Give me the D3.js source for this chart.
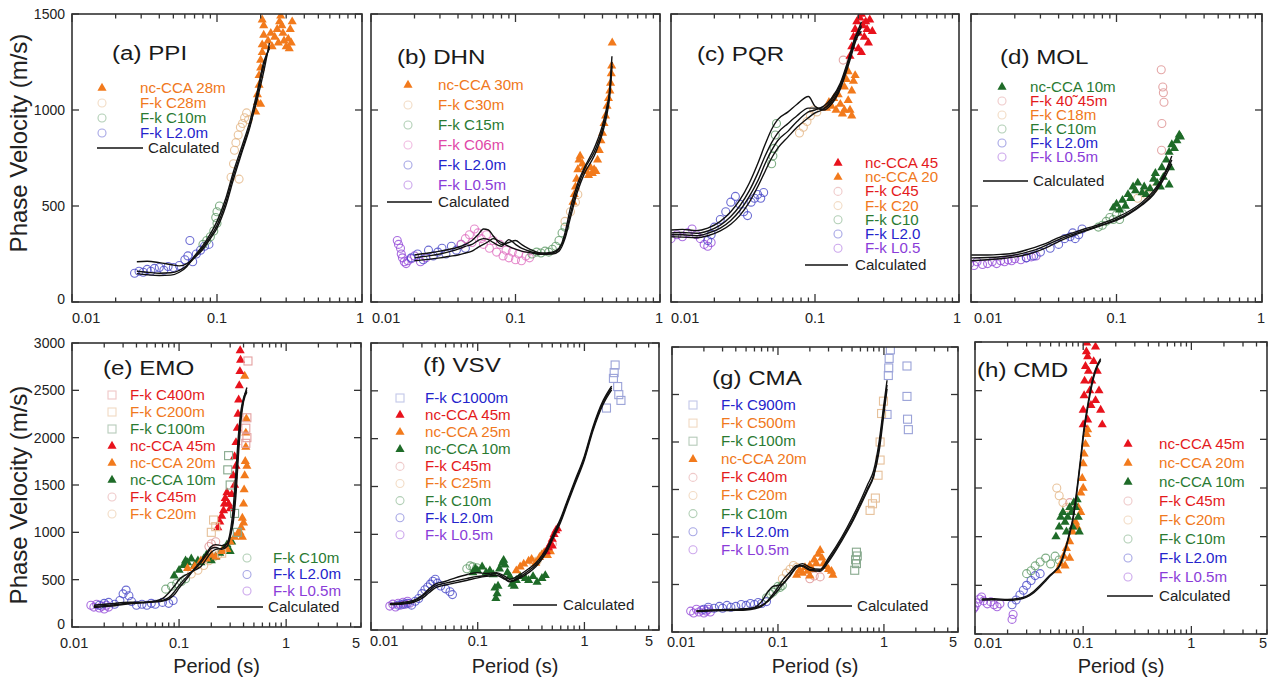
<!DOCTYPE html>
<html>
<head>
<meta charset="utf-8">
<script src="https://cdn.jsdelivr.net/npm/d3@7"></script>
<style>
  body { margin: 0; background: #fff; }
  svg { display: block; font-family: "Liberation Sans", Arial, sans-serif; }
</style>
</head>
<body>
<div id="chart"></div>
<script>
// ---- data: [period (s), phase velocity (m/s)] ----

// (a) PPI
var aNcca28 = [[0.185,990],[0.19,1040],[0.19,1080],[0.195,1130],[0.195,1180],[0.2,1220],[0.2,1260],[0.205,1300],[0.205,1340],[0.21,1390],[0.21,1440],[0.205,1470],[0.2,1030],[0.215,1330],[0.225,1360],[0.235,1400],[0.24,1330],[0.25,1380],[0.26,1420],[0.265,1350],[0.27,1460],[0.275,1490],[0.28,1440],[0.285,1400],[0.29,1360],[0.3,1330],[0.31,1370],[0.315,1320],[0.32,1420],[0.33,1460],[0.325,1350]];
var aFkC28 = [[0.125,650],[0.13,720],[0.132,790],[0.135,830],[0.14,870],[0.142,640],[0.145,910],[0.15,930],[0.155,960],[0.16,985],[0.165,950]];
var aFkC10 = [[0.08,300],[0.085,320],[0.09,340],[0.095,370],[0.1,410],[0.1,470],[0.104,500],[0.098,440]];
var aFkL20 = [[0.027,150],[0.029,160],[0.031,155],[0.033,170],[0.035,160],[0.037,175],[0.04,180],[0.043,165],[0.046,185],[0.05,180],[0.055,190],[0.06,220],[0.063,240],[0.065,320],[0.068,210],[0.072,250],[0.077,270],[0.082,290],[0.088,300]];
var aCalc1 = [[0.028,210],[0.033,212],[0.04,205],[0.048,195],[0.055,188],[0.062,200],[0.07,235],[0.08,285],[0.09,340],[0.1,400],[0.115,520],[0.13,660],[0.15,800],[0.17,930],[0.19,1060],[0.21,1200],[0.23,1350]];
var aCalc2 = [[0.028,160],[0.033,155],[0.04,150],[0.048,152],[0.055,165],[0.062,190],[0.07,230],[0.08,275],[0.09,330],[0.1,385],[0.115,500],[0.13,640],[0.15,790],[0.17,920],[0.19,1080],[0.21,1230],[0.23,1330]];
var aCalc3 = [[0.028,148],[0.033,142],[0.04,138],[0.048,140],[0.055,155],[0.062,185],[0.07,240],[0.08,295],[0.09,355],[0.1,420],[0.115,540],[0.13,680],[0.15,820],[0.17,950],[0.19,1100],[0.21,1250],[0.23,1320]];

// (b) DHN
var bNcca30 = [[0.25,520],[0.255,560],[0.26,600],[0.265,640],[0.27,690],[0.275,740],[0.28,760],[0.29,720],[0.3,700],[0.31,680],[0.32,660],[0.33,700],[0.34,670],[0.35,690],[0.36,680],[0.37,740],[0.38,790],[0.39,840],[0.4,880],[0.41,930],[0.42,970],[0.43,1020],[0.44,1060],[0.45,1100],[0.455,1140],[0.46,1190],[0.463,1230],[0.467,1350]];
var bFkC30 = [[0.22,420],[0.24,470],[0.26,520],[0.27,560]];
var bFkC15 = [[0.13,250],[0.14,260],[0.15,255],[0.16,265],[0.17,260],[0.18,275],[0.19,290],[0.2,320],[0.21,360],[0.22,390]];
var bFkC06 = [[0.042,300],[0.045,330],[0.048,350],[0.05,310],[0.052,380],[0.055,360],[0.058,330],[0.06,300],[0.063,350],[0.066,280],[0.07,320],[0.074,260],[0.078,300],[0.082,240],[0.086,270],[0.09,230],[0.095,260],[0.1,220],[0.105,250],[0.11,215],[0.118,240],[0.125,230]];
var bFkL20 = [[0.019,230],[0.021,250],[0.023,220],[0.025,270],[0.027,240],[0.029,260],[0.031,280],[0.033,250],[0.036,290],[0.039,270],[0.042,300],[0.045,280]];
var bFkL05 = [[0.0152,320],[0.0155,300],[0.016,280],[0.0162,250],[0.0165,230],[0.017,210],[0.0175,200],[0.018,215],[0.019,225],[0.02,240],[0.022,210],[0.024,230]];
var bCalc1 = [[0.02,245],[0.025,255],[0.03,265],[0.035,275],[0.04,285],[0.045,300],[0.05,320],[0.055,350],[0.06,380],[0.065,375],[0.07,345],[0.08,300],[0.09,310],[0.1,320],[0.11,300],[0.13,270],[0.15,255],[0.18,260],[0.2,280],[0.22,340],[0.24,460],[0.27,600],[0.3,690],[0.35,780],[0.4,900],[0.43,1000],[0.45,1120],[0.465,1280]];
var bCalc2 = [[0.02,230],[0.025,240],[0.03,250],[0.035,262],[0.04,275],[0.045,290],[0.05,300],[0.055,320],[0.06,330],[0.065,325],[0.07,310],[0.08,290],[0.09,325],[0.1,300],[0.11,280],[0.13,260],[0.15,250],[0.18,255],[0.2,275],[0.22,360],[0.24,490],[0.27,620],[0.3,700],[0.35,800],[0.4,920],[0.43,1020],[0.45,1100],[0.465,1250]];
var bCalc3 = [[0.02,215],[0.025,222],[0.03,230],[0.035,238],[0.04,245],[0.045,255],[0.05,265],[0.055,285],[0.06,300],[0.065,315],[0.07,330],[0.08,310],[0.09,290],[0.1,275],[0.11,265],[0.13,255],[0.15,248],[0.18,250],[0.2,265],[0.22,330],[0.24,440],[0.27,580],[0.3,670],[0.35,760],[0.4,880],[0.43,980],[0.45,1080],[0.465,1230]];

// (c) PQR
var cNcca45 = [[0.175,1280],[0.18,1330],[0.185,1380],[0.19,1420],[0.195,1460],[0.2,1400],[0.205,1480],[0.21,1500],[0.215,1440],[0.22,1380],[0.225,1460],[0.23,1420],[0.235,1350],[0.24,1470],[0.25,1410],[0.21,1300],[0.2,1320]];
var cNcca20 = [[0.12,1010],[0.125,1040],[0.13,1020],[0.135,1060],[0.14,1000],[0.145,1080],[0.15,1030],[0.155,980],[0.16,1120],[0.165,1160],[0.17,1050],[0.175,1000],[0.18,1100],[0.185,1150],[0.19,1180],[0.17,1200],[0.16,1000],[0.18,970]];
var cFkC45 = [[0.157,1260]];
var cFkC20 = [[0.078,880],[0.083,910],[0.088,940],[0.093,970],[0.098,1000],[0.103,990]];
var cFkC10 = [[0.05,720],[0.051,760],[0.052,800],[0.053,870],[0.054,930]];
var cFkL20 = [[0.018,320],[0.019,350],[0.02,390],[0.022,430],[0.024,470],[0.026,520],[0.028,550],[0.03,510],[0.032,470],[0.034,450],[0.036,520],[0.038,540],[0.04,560],[0.042,540],[0.044,570]];
var cFkL05 = [[0.01,330],[0.011,350],[0.012,340],[0.013,360],[0.014,380],[0.015,350],[0.016,330],[0.017,300],[0.018,290],[0.019,310]];
var cCalc1 = [[0.01,375],[0.012,378],[0.015,372],[0.018,385],[0.022,420],[0.026,470],[0.03,530],[0.035,620],[0.04,720],[0.045,820],[0.05,900],[0.055,950],[0.065,990],[0.075,1030],[0.09,1070],[0.1,1020],[0.115,1000],[0.13,1030],[0.15,1110],[0.17,1230],[0.19,1350],[0.21,1440]];
var cCalc2 = [[0.01,360],[0.012,362],[0.015,358],[0.018,370],[0.022,400],[0.026,445],[0.03,500],[0.035,580],[0.04,670],[0.045,760],[0.05,830],[0.055,880],[0.065,930],[0.075,970],[0.09,1010],[0.1,1010],[0.115,1010],[0.13,1040],[0.15,1120],[0.17,1240],[0.19,1370],[0.21,1460]];
var cCalc3 = [[0.01,350],[0.012,350],[0.015,345],[0.018,358],[0.022,385],[0.026,425],[0.03,475],[0.035,550],[0.04,630],[0.045,720],[0.05,790],[0.055,840],[0.065,890],[0.075,940],[0.09,990],[0.1,1000],[0.115,1020],[0.13,1060],[0.15,1140],[0.17,1260],[0.19,1380],[0.21,1430]];
var cCalc4 = [[0.01,340],[0.012,338],[0.015,335],[0.018,345],[0.022,370],[0.026,405],[0.03,450],[0.035,520],[0.04,600],[0.045,680],[0.05,750],[0.055,800],[0.065,860],[0.075,910],[0.09,960],[0.1,985],[0.115,1005],[0.13,1050],[0.15,1130],[0.17,1250],[0.19,1360],[0.21,1410]];

// (d) MOL
var dNcca10 = [[0.095,490],[0.1,510],[0.105,480],[0.11,530],[0.115,500],[0.12,560],[0.125,540],[0.13,600],[0.135,580],[0.14,620],[0.15,570],[0.155,600],[0.16,560],[0.17,590],[0.18,640],[0.185,670],[0.19,620],[0.2,600],[0.205,700],[0.21,650],[0.22,740],[0.23,780],[0.235,700],[0.24,820],[0.25,800],[0.26,840],[0.27,870],[0.275,860],[0.23,610]];
var dFk4045 = [[0.203,1210],[0.208,1120],[0.21,1090],[0.212,1040],[0.205,930],[0.204,790]];
var dFkC18 = [[0.14,540],[0.16,560],[0.18,590]];
var dFkC10 = [[0.075,390],[0.08,400],[0.085,420],[0.09,440],[0.095,430],[0.1,455],[0.105,430],[0.11,460]];
var dFkL20 = [[0.024,230],[0.027,240],[0.03,260],[0.035,280],[0.04,300],[0.044,330],[0.048,340],[0.05,360],[0.052,330],[0.055,350],[0.058,380]];
var dFkL05 = [[0.0098,200],[0.0105,190],[0.011,210],[0.012,195],[0.013,200],[0.014,210],[0.015,200],[0.016,215],[0.017,210],[0.018,220],[0.019,215],[0.02,225],[0.022,220],[0.024,230],[0.026,235],[0.028,240]];
var dCalc1 = [[0.01,245],[0.013,245],[0.016,248],[0.02,255],[0.025,275],[0.03,295],[0.035,315],[0.04,335],[0.05,360],[0.06,380],[0.07,395],[0.08,410],[0.1,440],[0.12,470],[0.15,520],[0.18,580],[0.2,630],[0.22,690],[0.24,760]];
var dCalc2 = [[0.01,230],[0.013,232],[0.016,236],[0.02,245],[0.025,262],[0.03,282],[0.035,305],[0.04,325],[0.05,352],[0.06,372],[0.07,388],[0.08,402],[0.1,430],[0.12,460],[0.15,510],[0.18,570],[0.2,620],[0.22,680],[0.24,740]];
var dCalc3 = [[0.01,215],[0.013,220],[0.016,225],[0.02,235],[0.025,250],[0.03,270],[0.035,292],[0.04,315],[0.05,345],[0.06,368],[0.07,385],[0.08,400],[0.1,425],[0.12,455],[0.15,505],[0.18,560],[0.2,610],[0.22,665],[0.24,720]];

// (e) EMO
var eFkC400 = [[0.44,2810],[0.43,2210],[0.42,2100],[0.43,2000],[0.42,1940]];
var eFkC200 = [[0.21,1130],[0.22,1060],[0.2,1000],[0.25,780]];
var eFkC100 = [[0.29,1810],[0.285,1660],[0.3,1500],[0.33,1200],[0.35,1000]];
var eNcca45 = [[0.23,1050],[0.24,1110],[0.25,1170],[0.26,1230],[0.265,1300],[0.27,1360],[0.28,1420],[0.29,1300],[0.3,1250],[0.31,1400],[0.32,1600],[0.33,1800],[0.34,1950],[0.35,2100],[0.355,2250],[0.36,2400],[0.365,2550],[0.37,2700],[0.375,2820],[0.372,2920],[0.34,1700],[0.33,1500]];
var eNcca20 = [[0.12,620],[0.14,640],[0.16,700],[0.18,720],[0.2,760],[0.22,740],[0.25,800],[0.28,820],[0.3,900],[0.33,950],[0.35,980],[0.37,1000],[0.38,1050],[0.39,1150],[0.4,1300],[0.405,1450],[0.41,1600],[0.415,1750],[0.42,1900],[0.42,2050],[0.425,2200],[0.41,2650],[0.4,1100],[0.43,1700],[0.39,950]];
var eNcca10 = [[0.09,540],[0.1,600],[0.11,650],[0.115,700],[0.12,680],[0.13,720],[0.14,650],[0.15,700],[0.16,680],[0.17,720],[0.18,760],[0.2,700],[0.22,740],[0.24,780],[0.26,820],[0.28,870],[0.3,800],[0.31,900]];
var eFkC45 = [[0.19,850],[0.2,880],[0.22,900]];
var eFkC20 = [[0.13,560],[0.15,600],[0.17,650],[0.19,700],[0.21,740],[0.23,760]];
var eFkC10 = [[0.075,400],[0.085,430],[0.095,460],[0.105,480],[0.115,510]];
var eFkL20 = [[0.018,230],[0.02,250],[0.022,260],[0.025,240],[0.028,280],[0.03,350],[0.032,390],[0.034,330],[0.036,270],[0.04,230],[0.045,240],[0.05,230],[0.055,250],[0.06,240],[0.07,260],[0.08,250],[0.088,280]];
var eFkL05 = [[0.015,230],[0.016,210],[0.017,240],[0.018,200],[0.019,220],[0.02,190],[0.021,230],[0.022,210]];
var eCalc1 = [[0.016,215],[0.02,225],[0.025,235],[0.03,245],[0.04,255],[0.05,260],[0.06,268],[0.07,280],[0.08,310],[0.09,370],[0.1,440],[0.12,540],[0.14,610],[0.16,680],[0.18,760],[0.2,830],[0.22,840],[0.25,820],[0.28,850],[0.3,950],[0.32,1150],[0.34,1500],[0.36,1950],[0.38,2250],[0.4,2400],[0.43,2530]];
var eCalc2 = [[0.016,230],[0.02,240],[0.025,250],[0.03,260],[0.04,262],[0.05,265],[0.06,275],[0.07,300],[0.08,360],[0.09,430],[0.1,500],[0.12,560],[0.14,600],[0.16,640],[0.18,720],[0.2,790],[0.22,820],[0.25,830],[0.28,880],[0.3,1000],[0.32,1250],[0.34,1650],[0.36,2050],[0.38,2300],[0.4,2420],[0.43,2500]];
var eCalc3 = [[0.016,205],[0.02,215],[0.025,225],[0.03,238],[0.04,250],[0.05,258],[0.06,265],[0.07,275],[0.08,295],[0.09,340],[0.1,410],[0.12,520],[0.14,620],[0.16,700],[0.18,780],[0.2,850],[0.22,870],[0.25,860],[0.28,880],[0.3,960],[0.32,1100],[0.34,1400],[0.36,1850],[0.38,2200],[0.4,2380],[0.43,2480]];

// (f) VSV
var fFkC1000 = [[1.94,2770],[1.9,2690],[1.87,2630],[2.05,2545],[2.1,2460],[2.2,2400],[1.61,2320]];
var fNcca45 = [[0.44,820],[0.46,860],[0.48,900],[0.5,950],[0.52,1000],[0.54,1040],[0.56,1060],[0.5,880]];
var fNcca25 = [[0.23,620],[0.25,660],[0.27,690],[0.3,720],[0.32,740],[0.35,700],[0.38,760],[0.4,790],[0.42,810],[0.45,780],[0.48,820]];
var fNcca10 = [[0.09,600],[0.095,640],[0.1,620],[0.11,660],[0.12,600],[0.13,620],[0.14,580],[0.145,440],[0.148,330],[0.152,380],[0.155,460],[0.16,640],[0.17,700],[0.175,730],[0.18,680],[0.19,600],[0.2,560],[0.21,480],[0.22,460],[0.23,520],[0.25,560],[0.28,540],[0.3,520],[0.33,560],[0.36,500],[0.4,540],[0.43,570]];
var fFkC45 = [[0.5,900]];
var fFkC25 = [[0.33,710],[0.36,720]];
var fFkC10 = [[0.079,640],[0.085,670],[0.09,660],[0.098,650]];
var fFkL20 = [[0.018,260],[0.02,270],[0.022,280],[0.024,260],[0.026,300],[0.028,330],[0.03,380],[0.032,420],[0.034,450],[0.036,480],[0.038,510],[0.04,530],[0.042,490],[0.045,460],[0.05,430],[0.055,400],[0.058,370]];
var fFkL05 = [[0.015,250],[0.016,270],[0.017,240],[0.018,280],[0.019,260],[0.02,290],[0.021,270],[0.022,300],[0.023,280]];
var fCalc1 = [[0.015,270],[0.018,275],[0.02,280],[0.025,300],[0.03,350],[0.035,410],[0.04,460],[0.05,490],[0.06,510],[0.08,540],[0.1,560],[0.12,570],[0.15,590],[0.18,540],[0.2,510],[0.25,560],[0.3,620],[0.35,680],[0.4,760],[0.45,850],[0.5,960],[0.6,1150],[0.7,1350],[0.8,1520],[1,1800],[1.2,2100],[1.5,2380],[1.8,2530]];
var fCalc2 = [[0.015,265],[0.018,268],[0.02,272],[0.025,290],[0.03,330],[0.035,390],[0.04,440],[0.05,470],[0.06,490],[0.08,520],[0.1,545],[0.12,560],[0.15,570],[0.18,530],[0.2,505],[0.25,545],[0.3,600],[0.35,660],[0.4,740],[0.45,830],[0.5,940],[0.6,1130],[0.7,1330],[0.8,1500],[1,1780],[1.2,2080],[1.5,2360],[1.8,2510]];
var fCalc3 = [[0.015,275],[0.018,282],[0.02,290],[0.025,310],[0.03,360],[0.035,430],[0.04,480],[0.05,510],[0.06,540],[0.08,580],[0.1,600],[0.12,590],[0.15,600],[0.18,560],[0.2,530],[0.25,580],[0.3,640],[0.35,700],[0.4,780],[0.45,870],[0.5,980],[0.6,1170],[0.7,1370],[0.8,1540],[1,1820],[1.2,2120],[1.5,2400],[1.8,2550]];

// (g) CMA
var gFkC900 = [[1.15,2970],[1.12,2880],[1.11,2780],[1.1,2700],[1.07,2290],[1.65,2800],[1.65,2480],[1.67,2240],[1.7,2130]];
var gFkC500 = [[0.99,2430],[0.95,2300],[0.92,2000],[0.92,1810],[0.88,1650],[0.83,1410],[0.78,1350],[0.74,1280]];
var gFkC100 = [[0.55,840],[0.56,800],[0.54,760],[0.55,720],[0.53,650]];
var gNcca20 = [[0.15,600],[0.16,650],[0.17,620],[0.18,680],[0.19,640],[0.2,700],[0.21,660],[0.22,760],[0.23,720],[0.24,820],[0.25,860],[0.26,780],[0.27,720],[0.28,690],[0.3,660],[0.32,640],[0.33,600],[0.2,590]];
var gFkC40 = [[0.2,560],[0.22,590],[0.25,580]];
var gFkC20 = [[0.11,560],[0.12,620],[0.13,660],[0.14,700],[0.15,680]];
var gFkC10 = [[0.078,360],[0.085,400],[0.09,420],[0.095,450],[0.1,480],[0.105,470],[0.11,490]];
var gFkL20 = [[0.02,240],[0.022,260],[0.025,250],[0.028,270],[0.03,250],[0.033,280],[0.036,260],[0.04,270],[0.045,290],[0.05,280],[0.055,300],[0.06,290],[0.065,310],[0.07,300],[0.078,320]];
var gFkL05 = [[0.015,220],[0.016,200],[0.017,240],[0.018,210],[0.019,230],[0.02,200],[0.021,220],[0.022,240],[0.023,210]];
var gCalc1 = [[0.017,220],[0.02,225],[0.025,230],[0.03,232],[0.04,235],[0.05,240],[0.06,260],[0.07,320],[0.08,420],[0.09,480],[0.1,490],[0.11,500],[0.13,600],[0.15,690],[0.17,720],[0.2,680],[0.25,660],[0.3,780],[0.4,1000],[0.5,1200],[0.6,1380],[0.7,1550],[0.8,1700],[0.9,2000],[1,2400],[1.07,2650]];
var gCalc2 = [[0.017,215],[0.02,218],[0.025,222],[0.03,225],[0.04,228],[0.05,232],[0.06,245],[0.07,270],[0.08,320],[0.09,380],[0.1,440],[0.11,500],[0.13,590],[0.15,680],[0.17,700],[0.2,660],[0.25,650],[0.3,760],[0.4,980],[0.5,1170],[0.6,1350],[0.7,1510],[0.8,1650],[0.9,1950],[1,2350],[1.07,2600]];
var gCalc3 = [[0.017,225],[0.02,228],[0.025,232],[0.03,235],[0.04,238],[0.05,245],[0.06,255],[0.07,280],[0.08,330],[0.09,400],[0.1,470],[0.11,540],[0.13,630],[0.15,700],[0.17,690],[0.2,650],[0.25,640],[0.3,740],[0.4,960],[0.5,1150],[0.6,1330],[0.7,1490],[0.8,1640],[0.9,1900],[1,2300],[1.07,2560]];

// (h) CMD
var hNcca45 = [[0.1,2150],[0.1,2300],[0.102,2450],[0.103,2600],[0.105,2750],[0.107,2900],[0.108,2990],[0.11,2850],[0.112,2700],[0.115,2500],[0.118,2350],[0.12,2600],[0.125,2800],[0.13,2950],[0.135,2700],[0.14,2500],[0.145,2300],[0.15,2150],[0.13,2400],[0.11,2200]];
var hNcca20 = [[0.058,650],[0.062,720],[0.066,800],[0.07,880],[0.075,950],[0.08,1050],[0.085,1150],[0.09,1300],[0.095,1450],[0.098,1600],[0.1,1750],[0.102,1850],[0.105,1950],[0.108,2050],[0.11,2100],[0.1,1500],[0.095,1250],[0.088,1100],[0.075,780],[0.068,700]];
var hNcca10 = [[0.056,1000],[0.06,1100],[0.062,1200],[0.065,1250],[0.068,1150],[0.07,1050],[0.072,1200],[0.075,1300],[0.078,1250],[0.08,1100],[0.082,1350],[0.085,1300],[0.088,1380],[0.09,1200],[0.092,1050]];
var hFkC45 = [[0.075,1350]];
var hFkC20 = [[0.057,1500],[0.06,1420],[0.065,1350],[0.07,1300]];
var hFkC10 = [[0.03,620],[0.033,650],[0.036,700],[0.04,740],[0.045,780],[0.05,720],[0.055,800],[0.06,760]];
var hFkL20 = [[0.022,300],[0.024,350],[0.026,400],[0.028,450],[0.03,500],[0.033,550],[0.036,600],[0.04,620]];
var hFkL05 = [[0.0097,260],[0.01,280],[0.0105,320],[0.011,360],[0.0115,380],[0.012,340],[0.013,310],[0.014,330],[0.015,300],[0.016,280],[0.017,310],[0.0225,200],[0.022,150]];
var hCalc1 = [[0.0115,360],[0.015,362],[0.02,355],[0.025,365],[0.03,390],[0.035,440],[0.04,500],[0.045,560],[0.05,610],[0.055,650],[0.06,700],[0.065,800],[0.07,920],[0.075,1050],[0.08,1180],[0.085,1380],[0.09,1600],[0.095,1820],[0.1,2050],[0.11,2350],[0.12,2580],[0.13,2720],[0.145,2830]];
var hCalc2 = [[0.0115,350],[0.015,352],[0.02,346],[0.025,355],[0.03,380],[0.035,425],[0.04,485],[0.045,545],[0.05,600],[0.055,645],[0.06,690],[0.065,780],[0.07,900],[0.075,1030],[0.08,1160],[0.085,1350],[0.09,1570],[0.095,1790],[0.1,2010],[0.11,2320],[0.12,2550],[0.13,2700],[0.145,2810]];

// tick labels
var xLabelsTop = [0.01, 0.1, 1];
var xLabelsBottom = [0.01, 0.1, 1, 5];
var yLabelsTop = [0, 500, 1000, 1500];
var yLabelsBottom = [0, 500, 1000, 1500, 2000, 2500, 3000];

// legend labels
var legA = ["nc-CCA 28m", "F-k C28m", "F-k C10m", "F-k L2.0m"];
var legB = ["nc-CCA 30m", "F-k C30m", "F-k C15m", "F-k C06m", "F-k L2.0m", "F-k L0.5m"];
var legC = ["nc-CCA 45", "nc-CCA 20", "F-k C45", "F-k C20", "F-k C10", "F-k L2.0", "F-k L0.5"];
var legD = ["nc-CCA 10m", "F-k 40\u02dc45m", "F-k C18m", "F-k C10m", "F-k L2.0m", "F-k L0.5m"];
var legE1 = ["F-k C400m", "F-k C200m", "F-k C100m", "nc-CCA 45m", "nc-CCA 20m", "nc-CCA 10m", "F-k C45m", "F-k C20m"];
var legE2 = ["F-k C10m", "F-k L2.0m", "F-k L0.5m"];
var legF = ["F-k C1000m", "nc-CCA 45m", "nc-CCA 25m", "nc-CCA 10m", "F-k C45m", "F-k C25m", "F-k C10m", "F-k L2.0m", "F-k L0.5m"];
var legG = ["F-k C900m", "F-k C500m", "F-k C100m", "nc-CCA 20m", "F-k C40m", "F-k C20m", "F-k C10m", "F-k L2.0m", "F-k L0.5m"];
var legH = ["nc-CCA 45m", "nc-CCA 20m", "nc-CCA 10m", "F-k C45m", "F-k C20m", "F-k C10m", "F-k L2.0m", "F-k L0.5m"];

// ---- styles ----
var STY = {
  triOr: { shape: "tri", c: "#f27a1c", t: "#f07820" },
  triRd: { shape: "tri", c: "#e8121c", t: "#e41a1c" },
  triGr: { shape: "tri", c: "#1e6b28", t: "#2a7a32" },
  cirTan: { shape: "cir", c: "#e4b585", t: "#f07820" },
  cirRd: { shape: "cir", c: "#dd9090", t: "#e41a1c" },
  cirGr: { shape: "cir", c: "#5f9a66", t: "#2a7a32" },
  cirBl: { shape: "cir", c: "#4848c8", t: "#2424cc" },
  cirPu: { shape: "cir", c: "#9448d8", t: "#8a3cd8" },
  cirPk: { shape: "cir", c: "#e070c0", t: "#e048a8" },
  sqRd: { shape: "sq", c: "#e4a0a0", t: "#e41a1c" },
  sqOr: { shape: "sq", c: "#e6c09a", t: "#f07820" },
  sqGr: { shape: "sq", c: "#86a88c", t: "#2a7a32" },
  sqBl: { shape: "sq", c: "#9aa2d8", t: "#2424cc" }
};

// ---- panel layout ----
var panels = [
  { title: "(a) PPI", box: [72, 14, 362, 302], xmax: 1, ymax: 1500, tpos: [112, 53], yTicks: yLabelsTop,
    xLabels: xLabelsTop, xLabelY: 318, yAxis: true, yTitleY: 143, firstX: 0, lastX: 2,
    series: [[aFkL20, "cirBl"], [aFkC10, "cirGr"], [aFkC28, "cirTan"], [aNcca28, "triOr"]],
    calc: [aCalc1, aCalc2, aCalc3],
    legends: [{ mx: 102, tx: 140, y0: 88, dy: 15, labels: legA, sty: ["triOr", "cirTan", "cirGr", "cirBl"] }],
    calcLeg: [97, 143, 148, 148] },
  { title: "(b) DHN", box: [371, 14, 660, 302], xmax: 1, ymax: 1500, tpos: [397, 57], yTicks: yLabelsTop,
    xLabels: xLabelsTop, xLabelY: 318, firstX: 1, lastX: 3,
    series: [[bFkL05, "cirPu"], [bFkL20, "cirBl"], [bFkC06, "cirPk"], [bFkC15, "cirGr"], [bFkC30, "cirTan"], [bNcca30, "triOr"]],
    calc: [bCalc1, bCalc2, bCalc3],
    legends: [{ mx: 408, tx: 438, y0: 85, dy: 20, labels: legB, sty: ["triOr", "cirTan", "cirGr", "cirPk", "cirBl", "cirPu"] }],
    calcLeg: [387, 432, 202, 438] },
  { title: "(c) PQR", box: [671, 14, 959, 302], xmax: 1, ymax: 1500, tpos: [697, 54], yTicks: yLabelsTop,
    xLabels: xLabelsTop, xLabelY: 318, firstX: 0, lastX: 2,
    series: [[cFkL05, "cirPu"], [cFkL20, "cirBl"], [cFkC10, "cirGr"], [cFkC20, "cirTan"], [cFkC45, "cirRd"], [cNcca20, "triOr"], [cNcca45, "triRd"]],
    calc: [cCalc1, cCalc2, cCalc3, cCalc4],
    legends: [{ mx: 838, tx: 865, y0: 163, dy: 14.2, labels: legC, sty: ["triRd", "triOr", "cirRd", "cirTan", "cirGr", "cirBl", "cirPu"] }],
    calcLeg: [805, 848, 265, 855] },
  { title: "(d) MOL", box: [971, 14, 1262, 302], xmax: 1, ymax: 1500, tpos: [1000, 57], yTicks: yLabelsTop,
    xLabels: xLabelsTop, xLabelY: 318, firstX: 3, lastX: 3,
    series: [[dFkL05, "cirPu"], [dFkL20, "cirBl"], [dFkC10, "cirGr"], [dFkC18, "cirTan"], [dFk4045, "cirRd"], [dNcca10, "triGr"]],
    calc: [dCalc1, dCalc2, dCalc3],
    legends: [{ mx: 1002, tx: 1030, y0: 87, dy: 14, labels: legD, sty: ["triGr", "cirRd", "cirTan", "cirGr", "cirBl", "cirPu"] }],
    calcLeg: [983, 1028, 181, 1033] },
  { title: "(e) EMO", box: [72, 343, 361, 627], xmax: 5, ymax: 3000, tpos: [103, 368], yTicks: yLabelsBottom,
    xLabels: xLabelsBottom, xLabelY: 643, yAxis: true, yTitleY: 495, xTitle: true, firstX: -12, lastX: -1,
    series: [[eFkL05, "cirPu"], [eFkL20, "cirBl"], [eFkC10, "cirGr"], [eFkC20, "cirTan"], [eFkC45, "cirRd"],
      [eNcca10, "triGr"], [eNcca20, "triOr"], [eNcca45, "triRd"], [eFkC100, "sqGr"], [eFkC200, "sqOr"], [eFkC400, "sqRd"]],
    calc: [eCalc1, eCalc2, eCalc3],
    legends: [{ mx: 112, tx: 130, y0: 395, dy: 17, labels: legE1, sty: ["sqRd", "sqOr", "sqGr", "triRd", "triOr", "triGr", "cirRd", "cirTan"] },
      { mx: 247, tx: 273, y0: 558, dy: 16.5, labels: legE2, sty: ["cirGr", "cirBl", "cirPu"] }],
    calcLeg: [217, 263, 607, 268] },
  { title: "(f) VSV", box: [371, 343, 659, 630], xmax: 5, ymax: 3000, tpos: [423, 365], yTicks: yLabelsBottom,
    xLabels: xLabelsBottom, xLabelY: 641, xTitle: true, firstX: -1, lastX: -6,
    series: [[fFkL05, "cirPu"], [fFkL20, "cirBl"], [fFkC10, "cirGr"], [fFkC25, "cirTan"], [fFkC45, "cirRd"],
      [fNcca10, "triGr"], [fNcca25, "triOr"], [fNcca45, "triRd"], [fFkC1000, "sqBl"]],
    calc: [fCalc1, fCalc2, fCalc3],
    legends: [{ mx: 400, tx: 425, y0: 398, dy: 17.1, labels: legF, sty: ["sqBl", "triRd", "triOr", "triGr", "cirRd", "cirTan", "cirGr", "cirBl", "cirPu"] }],
    calcLeg: [513, 557, 605, 563] },
  { title: "(g) CMA", box: [672, 347, 958, 632], xmax: 5, ymax: 3000, tpos: [712, 378], yTicks: yLabelsBottom,
    xLabels: xLabelsBottom, xLabelY: 642, xTitle: true, firstX: -5, lastX: -1,
    series: [[gFkL05, "cirPu"], [gFkL20, "cirBl"], [gFkC10, "cirGr"], [gFkC20, "cirTan"], [gFkC40, "cirRd"],
      [gNcca20, "triOr"], [gFkC100, "sqGr"], [gFkC500, "sqOr"], [gFkC900, "sqBl"]],
    calc: [gCalc1, gCalc2, gCalc3],
    legends: [{ mx: 693, tx: 721, y0: 405, dy: 18.1, labels: legG, sty: ["sqBl", "sqOr", "sqGr", "triOr", "cirRd", "cirTan", "cirGr", "cirBl", "cirPu"] }],
    calcLeg: [807, 852, 606, 857] },
  { title: "(h) CMD", box: [975, 342, 1267, 634], xmax: 5, ymax: 3000, tpos: [977, 370], yTicks: yLabelsBottom,
    xLabels: xLabelsBottom, xLabelY: 643, xTitle: true, firstX: -1, lastX: 0,
    series: [[hFkL05, "cirPu"], [hFkL20, "cirBl"], [hFkC10, "cirGr"], [hFkC20, "cirTan"], [hFkC45, "cirRd"],
      [hNcca20, "triOr"], [hNcca10, "triGr"], [hNcca45, "triRd"]],
    calc: [hCalc1, hCalc2],
    legends: [{ mx: 1128, tx: 1159, y0: 444, dy: 19, labels: legH, sty: ["triRd", "triOr", "triGr", "cirRd", "cirTan", "cirGr", "cirBl", "cirPu"] }],
    calcLeg: [1107, 1153, 596, 1159] }
];

var svg = d3.select("#chart").append("svg")
  .attr("width", 1269)
  .attr("height", 684);

var triPath = d3.symbol().type(d3.symbolTriangle).size(36)();

function label(sel, x, y, str, o) {
  return sel.append("text")
    .attr("transform", "translate(" + x + "," + y + ") scale(" + (o.sx || 1) + ",1)" + (o.rot ? " rotate(" + o.rot + ")" : ""))
    .attr("font-size", o.size)
    .attr("fill", o.color || "#222")
    .attr("text-anchor", o.anchor || "start")
    .attr("dy", "0.35em")
    .text(str);
}

function drawMarks(g, data, s, x, y) {
  if (s.shape === "tri") {
    g.selectAll(null).data(data).enter().append("path")
      .attr("d", triPath)
      .attr("transform", function (d) { return "translate(" + x(d[0]) + "," + y(d[1]) + ")"; })
      .attr("fill", s.c);
  } else if (s.shape === "sq") {
    g.selectAll(null).data(data).enter().append("rect")
      .attr("x", function (d) { return x(d[0]) - 4; })
      .attr("y", function (d) { return y(d[1]) - 4; })
      .attr("width", 8).attr("height", 8)
      .attr("fill", "none").attr("stroke", s.c).attr("stroke-width", 1.1);
  } else {
    g.selectAll(null).data(data).enter().append("circle")
      .attr("cx", function (d) { return x(d[0]); })
      .attr("cy", function (d) { return y(d[1]); })
      .attr("r", 4)
      .attr("fill", "none").attr("stroke", s.c).attr("stroke-width", 1.1)
      .attr("stroke-opacity", 0.8);
  }
}

function drawPanel(p, i) {
  var L = p.box[0], T = p.box[1], R = p.box[2], B = p.box[3];
  var x = d3.scaleLog().domain([0.01, p.xmax]).range([L, R]);
  var y = d3.scaleLinear().domain([0, p.ymax]).range([B, T]);
  var g = svg.append("g");

  svg.append("clipPath").attr("id", "clip" + i)
    .append("rect").attr("x", L).attr("y", T).attr("width", R - L).attr("height", B - T);
  var plot = g.append("g").attr("clip-path", "url(#clip" + i + ")");

  // observed dispersion points
  p.series.forEach(function (s) { drawMarks(plot, s[0], STY[s[1]], x, y); });

  // calculated curves
  var line = d3.line()
    .x(function (d) { return x(d[0]); })
    .y(function (d) { return y(d[1]); })
    .curve(d3.curveMonotoneX);
  plot.selectAll("path.calc").data(p.calc).enter().append("path")
    .attr("class", "calc")
    .attr("d", line)
    .attr("fill", "none").attr("stroke", "#111").attr("stroke-width", 1.4);

  // frame
  g.append("rect").attr("x", L).attr("y", T).attr("width", R - L).attr("height", B - T)
    .attr("fill", "none").attr("stroke", "#333").attr("stroke-width", 1.6);

  // log ticks on top and bottom, pointing inward
  x.ticks().forEach(function (t) {
    var lg = Math.log10(t), major = Math.abs(lg - Math.round(lg)) < 1e-6;
    var len = major ? 8 : 4.5, xx = x(t);
    g.append("line").attr("x1", xx).attr("x2", xx).attr("y1", B).attr("y2", B - len)
      .attr("stroke", "#333").attr("stroke-width", 1.3);
    g.append("line").attr("x1", xx).attr("x2", xx).attr("y1", T).attr("y2", T + len)
      .attr("stroke", "#333").attr("stroke-width", 1.3);
  });
  p.yTicks.forEach(function (t) {
    var yy = y(t);
    g.append("line").attr("x1", L).attr("x2", L + 7).attr("y1", yy).attr("y2", yy)
      .attr("stroke", "#333").attr("stroke-width", 1.3);
    g.append("line").attr("x1", R).attr("x2", R - 7).attr("y1", yy).attr("y2", yy)
      .attr("stroke", "#333").attr("stroke-width", 1.3);
  });

  // tick labels: end labels sit inside the panel span, others centred on the tick
  var n = p.xLabels.length;
  p.xLabels.forEach(function (t, k) {
    var xx = x(t), anchor = "middle";
    if (k === 0) { xx = L + p.firstX; anchor = "start"; }
    if (k === n - 1) { xx = R + p.lastX; anchor = "end"; }
    label(g, xx, p.xLabelY, String(t), { size: 14.5, anchor: anchor, color: "#222" });
  });
  if (p.yAxis) {
    p.yTicks.forEach(function (t) {
      // the zero label is nudged up so it clears the first period label
      label(g, L - 7, y(t) - (t === 0 ? 3 : 0), String(t), { size: 14, anchor: "end", color: "#222" });
    });
    label(g, 19, p.yTitleY, "Phase Velocity (m/s)", { size: 24, anchor: "middle", rot: -90, color: "#222" });
  }
  if (p.xTitle) {
    label(g, (L + R) / 2, 666, "Period (s)", { size: 20, anchor: "middle", color: "#222" });
  }

  // title
  label(g, p.tpos[0], p.tpos[1], p.title, { size: 21, sx: 1.15, color: "#1a1a1a" });

  // legends
  p.legends.forEach(function (lg) {
    lg.labels.forEach(function (txt, k) {
      var s = STY[lg.sty[k]], yy = lg.y0 + k * lg.dy;
      var mg = g.append("g").attr("opacity", s.shape === "tri" ? 1 : 0.6);
      drawMarks(mg, [[0, 0]], s,
        function () { return lg.mx; },
        function () { return yy; });
      label(g, lg.tx, yy, txt, { size: 14, sx: 1.08, color: s.t });
    });
  });
  var c = p.calcLeg;
  g.append("line").attr("x1", c[0]).attr("x2", c[1]).attr("y1", c[2]).attr("y2", c[2])
    .attr("stroke", "#111").attr("stroke-width", 1.4);
  label(g, c[3], c[2], "Calculated", { size: 14, sx: 1.08, color: "#222" });
}

panels.forEach(drawPanel);
</script>
</body>
</html>
